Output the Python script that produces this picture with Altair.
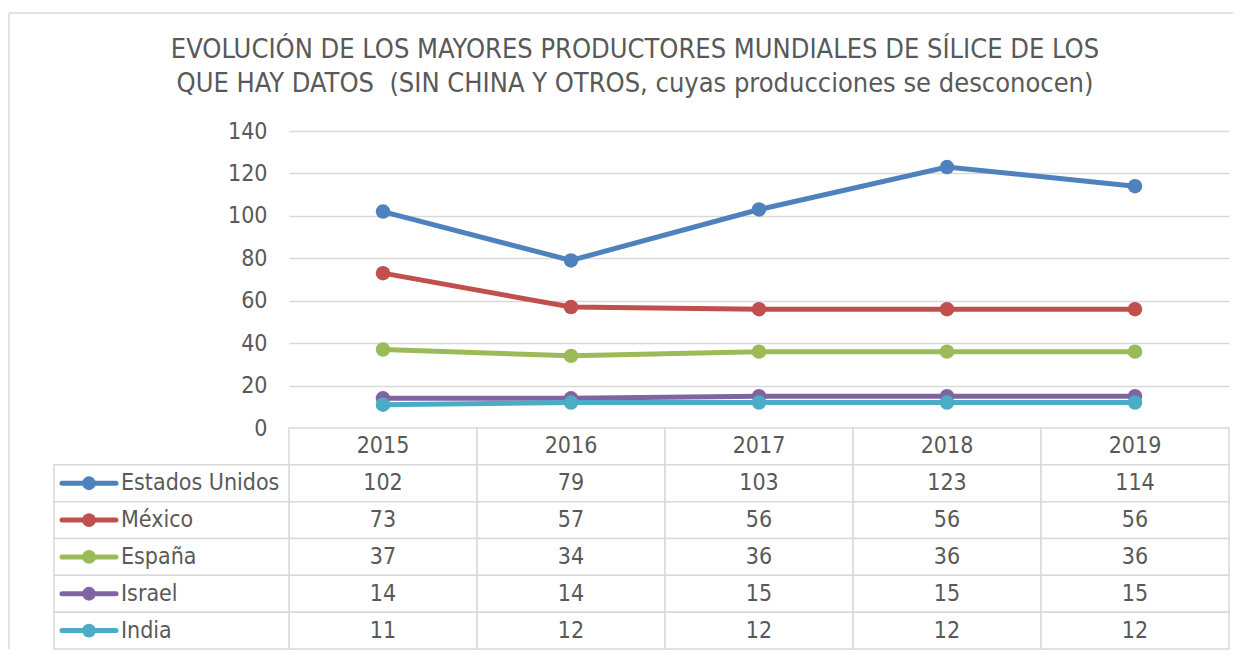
import altair as alt
import pandas as pd

# ---------------- data ----------------
years = ["2015", "2016", "2017", "2018", "2019"]
countries = ["Estados Unidos", "México", "España", "Israel", "India"]
estados_unidos = [102, 79, 103, 123, 114]
mexico = [73, 57, 56, 56, 56]
espana = [37, 34, 36, 36, 36]
israel = [14, 14, 15, 15, 15]
india = [11, 12, 12, 12, 12]
series_values = [estados_unidos, mexico, espana, israel, india]
colors = ["#4F81BD", "#C0504D", "#9BBB59", "#8064A2", "#4BACC6"]
y_ticks = [0, 20, 40, 60, 80, 100, 120, 140]
title_lines = [
    "EVOLUCIÓN DE LOS MAYORES PRODUCTORES MUNDIALES DE SÍLICE DE LOS",
    "QUE HAY DATOS \u00a0(SIN CHINA Y OTROS, cuyas producciones se desconocen)",
]

FONT = "DejaVu Sans Condensed, Liberation Sans, sans-serif"
TXT = "#595959"
GRID = "#D9D9D9"
FS = 23

W, H = 940, 297
TABLE_BOTTOM = H + 221

rows = []
for c, vals in zip(countries, series_values):
    for i, (yr, v) in enumerate(zip(years, vals)):
        rows.append({"country": c, "year": yr, "idx": i, "value": v})
df = pd.DataFrame(rows)

header_label = "header"
row_domain = [header_label] + countries

cells = []
for r in row_domain:
    for i, yr in enumerate(years):
        cells.append({"row": r, "x0": i - 0.5, "x1": i + 0.5})
cells_df = pd.DataFrame(cells)
header_df = pd.DataFrame({"row": header_label, "idx": list(range(len(years))), "year": years})
label_df = pd.DataFrame({"row": countries, "country": countries})

x_scale = alt.Scale(domain=[-0.5, len(years) - 0.5], zero=False, nice=False)
y_scale = alt.Scale(domain=[0, 140], zero=True, nice=False)
row_scale = alt.Scale(domain=row_domain, range=[H, TABLE_BOTTOM], paddingInner=0, paddingOuter=0)
color_scale = alt.Scale(domain=countries, range=colors)

base = alt.Chart(df)

lines = base.mark_line(strokeWidth=5).encode(
    x=alt.X("idx:Q", scale=x_scale, axis=None),
    y=alt.Y("value:Q", scale=y_scale,
            axis=alt.Axis(values=y_ticks, grid=True, gridColor=GRID, gridWidth=1.5,
                          ticks=False, domain=False, title=None,
                          labelFont=FONT, labelFontSize=FS, labelColor=TXT,
                          labelPadding=22)),
    color=alt.Color("country:N", scale=color_scale, legend=None),
    detail="country:N",
)
points = base.mark_circle(size=210, opacity=1).encode(
    x=alt.X("idx:Q", scale=x_scale, axis=None),
    y=alt.Y("value:Q", scale=y_scale, axis=None),
    color=alt.Color("country:N", scale=color_scale, legend=None),
)

# table cells (year columns)
cell_rects = alt.Chart(cells_df).mark_rect(fill="white", stroke=GRID, strokeWidth=1.5).encode(
    x=alt.X("x0:Q", scale=x_scale, axis=None),
    x2="x1:Q",
    y=alt.Y("row:N", scale=row_scale, axis=None),
)
# label column cells
label_rects = alt.Chart(label_df).mark_rect(fill="white", stroke=GRID, strokeWidth=1.5).encode(
    x=alt.value(-235),
    x2=alt.value(0),
    y=alt.Y("row:N", scale=row_scale, axis=None),
)
header_text = alt.Chart(header_df).mark_text(font=FONT, fontSize=FS, color=TXT, baseline="middle").encode(
    x=alt.X("idx:Q", scale=x_scale, axis=None),
    y=alt.Y("row:N", scale=row_scale, axis=None),
    text="year:N",
)
value_text = alt.Chart(df).mark_text(font=FONT, fontSize=FS, color=TXT, baseline="middle").encode(
    x=alt.X("idx:Q", scale=x_scale, axis=None),
    y=alt.Y("country:N", scale=row_scale, axis=None),
    text="value:Q",
)
label_text = alt.Chart(label_df).mark_text(font=FONT, fontSize=FS, color=TXT, baseline="middle",
                                          align="left").encode(
    x=alt.value(-168),
    y=alt.Y("row:N", scale=row_scale, axis=None),
    text="country:N",
)
legend_lines = alt.Chart(label_df).mark_rule(strokeWidth=5, strokeCap="round").encode(
    x=alt.value(-227),
    x2=alt.value(-173),
    y=alt.Y("row:N", scale=row_scale, axis=None),
    color=alt.Color("country:N", scale=color_scale, legend=None),
)
legend_pts = alt.Chart(label_df).mark_circle(size=190, opacity=1).encode(
    x=alt.value(-200),
    y=alt.Y("row:N", scale=row_scale, axis=None),
    color=alt.Color("country:N", scale=color_scale, legend=None),
)

# title lines
title1 = alt.Chart(alt.Data(values=[{"t": title_lines[0]}])).mark_text(
    font=FONT, fontSize=27, color=TXT, baseline="middle", align="center").encode(
    x=alt.value(346), y=alt.value(-81), text="t:N")
title2 = alt.Chart(alt.Data(values=[{"t": title_lines[1]}])).mark_text(
    font=FONT, fontSize=27, color=TXT, baseline="middle", align="center").encode(
    x=alt.value(346), y=alt.value(-47), text="t:N")

# outer chart-area border (top and left edges visible in the frame)
border_top = alt.Chart(alt.Data(values=[{}])).mark_rule(color=GRID, strokeWidth=1.5).encode(
    x=alt.value(-280), x2=alt.value(944), y=alt.value(-118))
border_left = alt.Chart(alt.Data(values=[{}])).mark_rule(color=GRID, strokeWidth=1.5).encode(
    x=alt.value(-280), y=alt.value(-118), y2=alt.value(TABLE_BOTTOM))

chart = alt.layer(
    border_top, border_left, title1, title2,
    lines, points,
    cell_rects, label_rects, header_text, value_text, label_text, legend_lines, legend_pts,
).resolve_scale(y="independent").properties(
    width=W, height=H,
    padding={"left": 0, "top": 4, "right": 0, "bottom": 0},
).configure_view(strokeWidth=0)

chart.save("out.html", embed_options={"renderer": "svg", "actions": False})
